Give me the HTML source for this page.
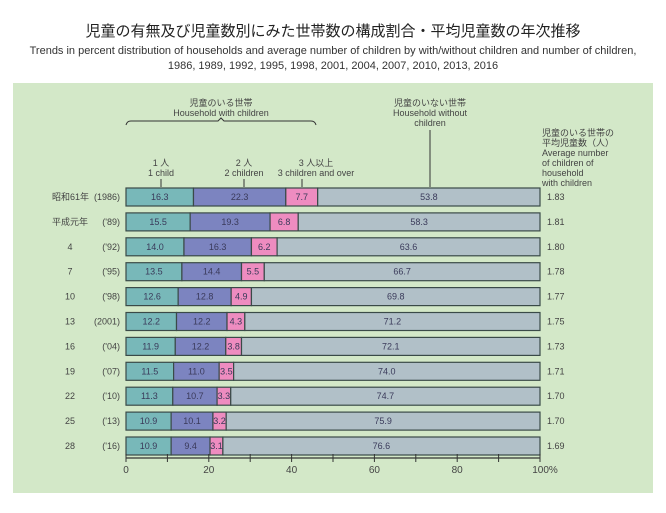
<!DOCTYPE html>
<html><head><meta charset="utf-8"><style>
body{margin:0;background:#fff;width:666px;height:508px;overflow:hidden;font-family:"Liberation Sans","Noto Sans CJK JP",sans-serif}
</style></head><body>
<svg width="666" height="508" style="font-family:'Liberation Sans','Noto Sans CJK JP',sans-serif">
<text x="333" y="36" text-anchor="middle" font-size="15" fill="#222">児童の有無及び児童数別にみた世帯数の構成割合・平均児童数の年次推移</text>
<text x="333" y="54" text-anchor="middle" font-size="11" fill="#333">Trends in percent distribution of households and average number of children by with/without children and number of children,</text>
<text x="333" y="69" text-anchor="middle" font-size="11" fill="#333">1986, 1989, 1992, 1995, 1998, 2001, 2004, 2007, 2010, 2013, 2016</text>
<rect x="13" y="83" width="640" height="410" fill="#d3e8c8"/>
<g font-size="9" fill="#444">
<text x="221" y="106" text-anchor="middle">児童のいる世帯</text>
<text x="221" y="116" text-anchor="middle">Household with children</text>
<path d="M126,125 Q127,121 131,121 L218,121 L221,118 L224,121 L311,121 Q315,121 316,125" fill="none" stroke="#333"/>
<text x="430" y="106" text-anchor="middle">児童のいない世帯</text>
<text x="430" y="116" text-anchor="middle">Household without</text>
<text x="430" y="126" text-anchor="middle">children</text>
<line x1="430" y1="130" x2="430" y2="187" stroke="#333"/>
<text x="161" y="166" text-anchor="middle">1 人</text>
<text x="161" y="176" text-anchor="middle">1 child</text>
<line x1="161" y1="179" x2="161" y2="187" stroke="#333"/>
<text x="244" y="166" text-anchor="middle">2 人</text>
<text x="244" y="176" text-anchor="middle">2 children</text>
<line x1="244" y1="179" x2="244" y2="187" stroke="#333"/>
<text x="316" y="166" text-anchor="middle">3 人以上</text>
<text x="316" y="176" text-anchor="middle">3 children and over</text>
<line x1="302" y1="179" x2="302" y2="187" stroke="#333"/>
<text x="542" y="136">児童のいる世帯の</text>
<text x="542" y="146">平均児童数（人）</text>
<text x="542" y="156">Average number</text>
<text x="542" y="166">of children of</text>
<text x="542" y="176">household</text>
<text x="542" y="186">with children</text>
</g>
<g id="bars"></g>
<g id="axis"></g>
</svg>
<script>
const eraLabels=["昭和61年","平成元年","4","7","10","13","16","19","22","25","28"];
const yearLabels=["(1986)","('89)","('92)","('95)","('98)","(2001)","('04)","('07)","('10)","('13)","('16)"];
const oneChild=[16.3,15.5,14.0,13.5,12.6,12.2,11.9,11.5,11.3,10.9,10.9];
const twoChildren=[22.3,19.3,16.3,14.4,12.8,12.2,12.2,11.0,10.7,10.1,9.4];
const threePlus=[7.7,6.8,6.2,5.5,4.9,4.3,3.8,3.5,3.3,3.2,3.1];
const noChildren=[53.8,58.3,63.6,66.7,69.8,71.2,72.1,74.0,74.7,75.9,76.6];
const avgChildren=["1.83","1.81","1.80","1.78","1.77","1.75","1.73","1.71","1.70","1.70","1.69"];
const tickValues=[0,20,40,60,80,100];
const tickLabels=["0","20","40","60","80","100%"];
const NS="http://www.w3.org/2000/svg";
const X0=126,X1=540;
const xs=v=>X0+(X1-X0)*v/100;
const ys=i=>188+i*24.9;
const BH=18;
const series=[[oneChild,"#78b8b9","one-child"],[twoChildren,"#7c84c0","two-children"],[threePlus,"#ee8cc0","three-plus"],[noChildren,"#b1c0c8","no-children"]];
function mk(t,a,p){const e=document.createElementNS(NS,t);for(const k in a)e.setAttribute(k,a[k]);p.appendChild(e);return e;}
const bars=document.getElementById('bars');
eraLabels.forEach((lab,i)=>{
  const y=ys(i);let cum=0;
  const t1=mk('text',{x:eraLabels[i]==="昭和61年"||eraLabels[i]==="平成元年"?52:70,y:y+BH/2+3,'font-size':9,fill:'#444','text-anchor':eraLabels[i].length>2?'start':'middle'},bars);
  t1.textContent=lab;
  
  
  const t2=mk('text',{x:120,y:y+BH/2+3,'font-size':9,fill:'#444','text-anchor':'end'},bars);
  t2.textContent=yearLabels[i];
  
  
  series.forEach(([arr,col,nm])=>{
    const v=arr[i];
    let x2=cum+v; if(nm==="no-children") x2=100;
    const r=mk('rect',{x:xs(cum),y:y,width:xs(x2)-xs(cum),height:BH,fill:col,stroke:'#3a4a48','stroke-width':1.2},bars);
    
    
    const t=mk('text',{x:(xs(cum)+xs(x2))/2,y:y+BH/2+3,'font-size':9,fill:'#3a3a5a','text-anchor':'middle'},bars);
    t.textContent=v.toFixed(1);
    
    
    cum+=v;
  });
  const a=mk('text',{x:547,y:y+BH/2+3,'font-size':9,fill:'#444'},bars);
  a.textContent=avgChildren[i];
  
  
});
const ax=document.getElementById('axis');
const al=mk('line',{x1:X0,x2:X1,y1:458,y2:458,stroke:'#333','stroke-width':1.2},ax);


for(let v=0;v<=100;v+=10){
  const tk=mk('line',{x1:xs(v),x2:xs(v),y1:454,y2:462,stroke:'#333'},ax);
  
  
}
tickValues.forEach((v,i)=>{
  const t=mk('text',{x:xs(v)+(v===100?5:0),y:473,'font-size':10,fill:'#444','text-anchor':'middle'},ax);
  t.textContent=tickLabels[i];
  
  
});
</script>
</body></html>
